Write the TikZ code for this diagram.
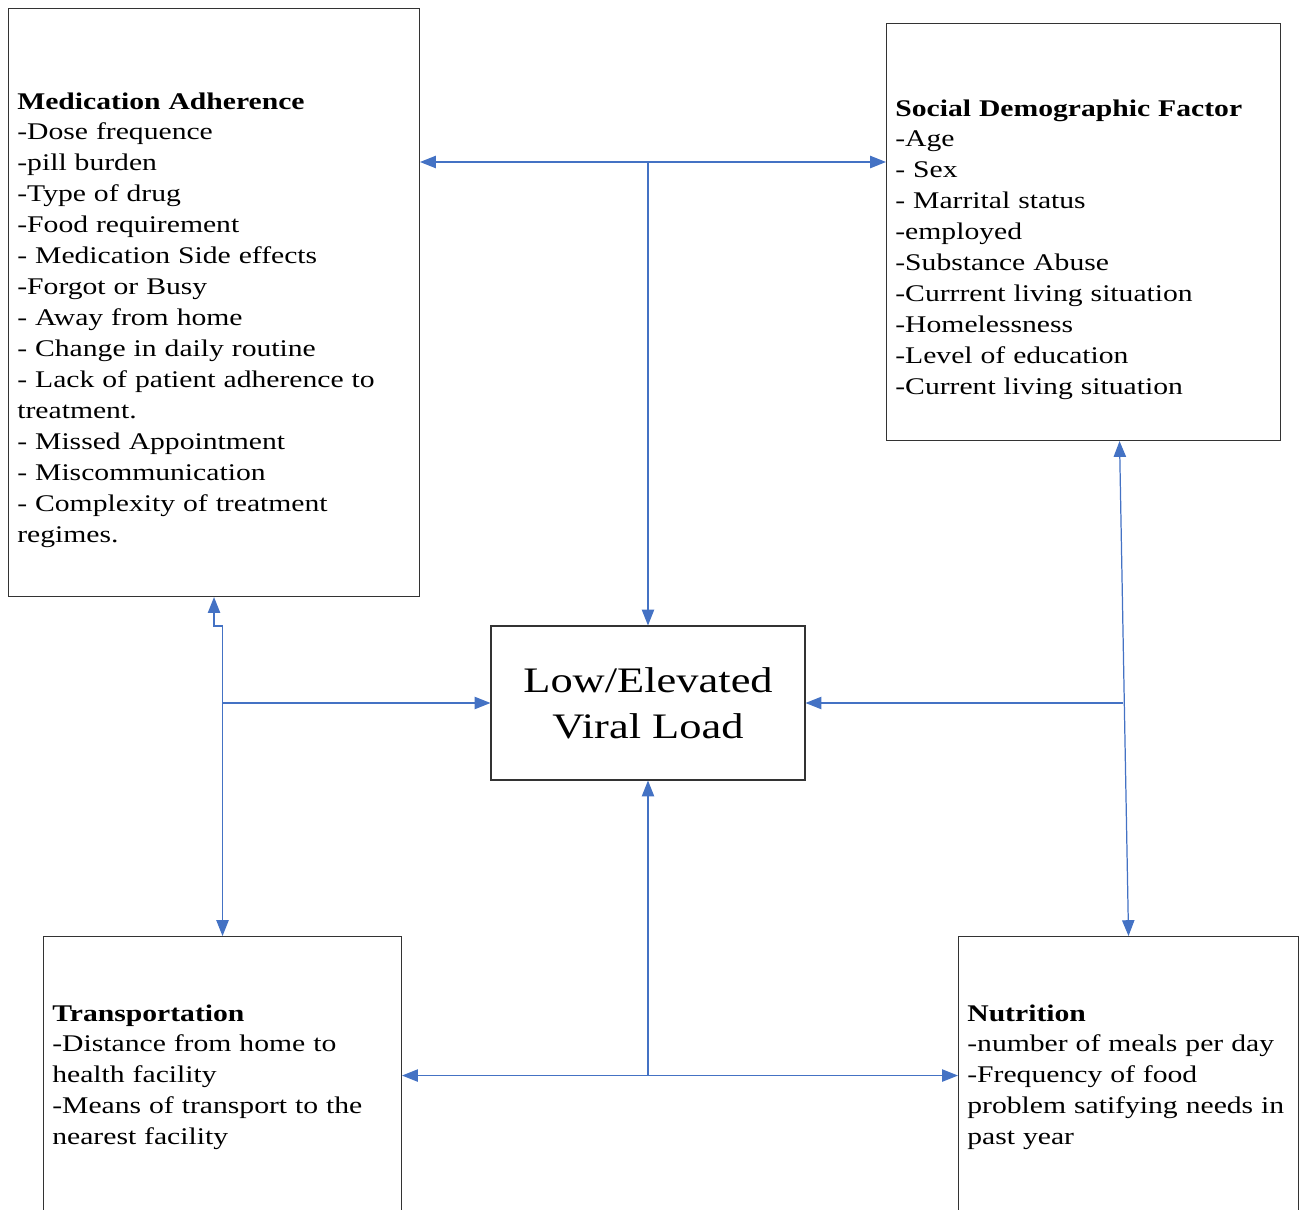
\documentclass[tikz,border=0pt]{standalone}
\usepackage{fontspec}
\setmainfont{Liberation Serif}[FakeStretch=1.24]
\usepackage{xcolor}
\usetikzlibrary{arrows.meta, positioning}
\definecolor{linkblue}{RGB}{68,114,196}

\begin{document}
\begin{tikzpicture}[
    box/.style={draw=black!80, line width=0.6pt, anchor=north west, inner sep=0pt},
    txt/.style={anchor=base west, inner sep=0pt, text width=8cm, align=left,
                font=\fontsize{13.6}{17.6}\selectfont},
    link/.style={draw=linkblue, line width=0.7pt, -{Triangle[width=7pt,length=9pt]}},
    both/.style={link, {Triangle[width=7pt,length=9pt]}-{Triangle[width=7pt,length=9pt]}}
  ]
  \path[use as bounding box] (0,0) rectangle (26.1,-24.18);
  \clip (0,0) rectangle (26.1,-24.18);

  % Kaesten
  \node[box, minimum width=8.22cm, minimum height=11.76cm] (medBox) at (0.16,-0.16) {};
  \node[box, minimum width=7.88cm, minimum height=8.34cm] (socBox) at (17.72,-0.46) {};
  \node[box, minimum width=7.16cm, minimum height=5.56cm] (trBox) at (0.86,-18.72) {};
  \node[box, minimum width=6.80cm, minimum height=5.56cm] (nuBox) at (19.16,-18.72) {};
  \node[draw=black!80, line width=0.6pt, minimum width=6.28cm, minimum height=3.08cm,
        align=center, font=\fontsize{20.4}{26}\selectfont] (vl) at (12.96,-14.06)
        {Low/Elevated\\Viral Load};

  % Texte
  \node[txt] (medText) at ([xshift=0.18cm, yshift=-2.02cm]medBox.north west)
    {\textbf{Medication Adherence}\\
     -Dose frequence\\
     -pill burden\\
     -Type of drug\\
     -Food requirement\\
     - Medication Side effects\\
     -Forgot or Busy\\
     - Away from home\\
     - Change in daily routine\\
     - Lack of patient adherence to\\
     treatment.\\
     - Missed Appointment\\
     - Miscommunication\\
     - Complexity of treatment\\
     regimes.};
  \node[txt] (socText) at ([xshift=0.18cm, yshift=-1.86cm]socBox.north west)
    {\textbf{Social Demographic Factor}\\
     -Age\\
     - Sex\\
     - Marrital status\\
     -employed\\
     -Substance Abuse\\
     -Currrent living situation\\
     -Homelessness\\
     -Level of education\\
     -Current living situation};
  \node[txt] (trText) at ([xshift=0.18cm, yshift=-1.70cm]trBox.north west)
    {\textbf{Transportation}\\
     -Distance from home to\\
     health facility\\
     -Means of transport to the\\
     nearest facility};
  \node[txt] (nuText) at ([xshift=0.18cm, yshift=-1.70cm]nuBox.north west)
    {\textbf{Nutrition}\\
     -number of meals per day\\
     -Frequency of food\\
     problem satifying needs in\\
     past year};

  % Verbindungen
  \coordinate (tj) at (12.96,-3.24);                  % oben
  \coordinate (rj) at (22.46,-14.06);                 % rechts
  \coordinate (st) at ([xshift=0.72cm]socBox.south);  % unter Social
  \draw[both] (medBox.east |- tj) -- (socBox.west |- tj);
  \draw[link] (tj) -- (vl.north);
  \draw[both] (medBox.south) -- ++(0,-0.58) -| (trBox.north);
  \draw[link] (trBox.north |- vl.west) -- (vl.west);
  \draw[both] (st) -- (nuBox.north);
  \draw[link] (rj) -- (vl.east);
  \draw[both] (trBox.east) -- (nuBox.west);
  \draw[link] (trBox.east -| vl.south) -- (vl.south);
\end{tikzpicture}
\end{document}
